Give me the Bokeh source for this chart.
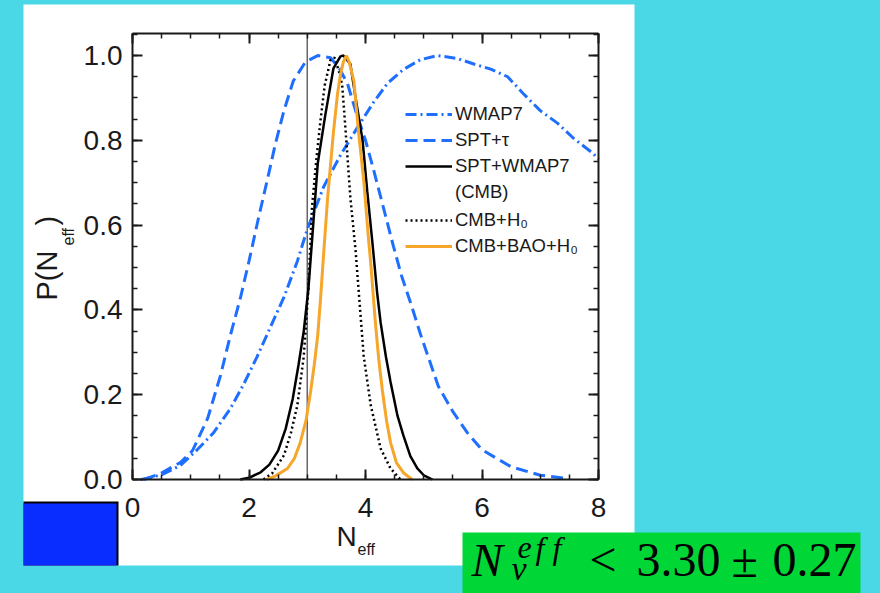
from bokeh.plotting import figure
from bokeh.models import (Label, BoxAnnotation, Legend, LegendItem, LinearAxis,
                          FixedTicker, PrintfTickFormatter, Range1d, CustomJSTickFormatter)
from bokeh.embed import file_html
from bokeh.resources import INLINE

# ---------------- data ----------------
wmap7_n = [0.15, 0.3, 0.53, 0.82, 1.11, 1.39, 1.68, 1.91, 2.14, 2.37, 2.6, 2.83, 3.0, 3.28,
           3.57, 3.86, 4.14, 4.38, 4.65, 4.94, 5.23, 5.58, 5.86, 6.15, 6.44, 6.71, 7.0, 7.3,
           7.57, 7.9, 8.0]
wmap7_p = [0.0, 0.004, 0.013, 0.033, 0.07, 0.11, 0.167, 0.225, 0.29, 0.36, 0.43, 0.515, 0.59,
           0.69, 0.765, 0.83, 0.89, 0.935, 0.967, 0.99, 1.0, 0.993, 0.98, 0.968, 0.95, 0.91,
           0.87, 0.84, 0.805, 0.77, 0.755]

spt_n = [0.2, 0.48, 0.82, 1.03, 1.29, 1.51, 1.68, 1.85, 2.0, 2.16, 2.32, 2.45, 2.6, 2.76, 2.97,
         3.18, 3.4, 3.55, 3.69, 3.83, 4.0, 4.14, 4.31, 4.48, 4.62, 4.79, 4.95, 5.25, 5.5, 5.75,
         6.0, 6.5, 7.0, 7.5]
spt_p = [0.0, 0.014, 0.04, 0.068, 0.144, 0.245, 0.34, 0.427, 0.515, 0.615, 0.71, 0.79, 0.87,
         0.94, 0.985, 1.0, 0.995, 0.97, 0.934, 0.87, 0.8, 0.73, 0.64, 0.55, 0.48, 0.41, 0.34,
         0.22, 0.16, 0.11, 0.07, 0.03, 0.01, 0.002]

cmb_n = [1.85, 2.0, 2.2, 2.35, 2.5, 2.63, 2.75, 2.85, 2.94, 3.02, 3.08, 3.18, 3.31, 3.45, 3.57,
         3.62, 3.74, 3.83, 3.95, 4.03, 4.12, 4.2, 4.26, 4.35, 4.43, 4.55, 4.65, 4.77, 4.89,
         5.0, 5.15]
cmb_p = [0.0, 0.004, 0.017, 0.035, 0.068, 0.12, 0.19, 0.27, 0.35, 0.45, 0.56, 0.745, 0.86,
         0.97, 0.998, 1.0, 0.98, 0.9, 0.8, 0.68, 0.557, 0.44, 0.37, 0.29, 0.23, 0.15, 0.104,
         0.055, 0.026, 0.01, 0.0]

cmbh0_n = [2.25, 2.4, 2.6, 2.72, 2.83, 2.94, 3.02, 3.08, 3.16, 3.23, 3.3, 3.4, 3.47, 3.55,
           3.6, 3.66, 3.74, 3.83, 3.88, 3.97, 4.09, 4.26, 4.43, 4.6]
cmbh0_p = [0.0, 0.015, 0.057, 0.11, 0.175, 0.29, 0.45, 0.64, 0.76, 0.85, 0.93, 0.99, 0.995,
           0.96, 0.93, 0.82, 0.665, 0.54, 0.45, 0.29, 0.175, 0.073, 0.026, 0.0]

bao_n = [2.3, 2.45, 2.66, 2.78, 2.88, 2.98, 3.06, 3.12, 3.18, 3.23, 3.28, 3.35, 3.45, 3.52,
         3.57, 3.62, 3.67, 3.72, 3.8, 3.88, 3.97, 4.05, 4.09, 4.17, 4.23, 4.29, 4.36, 4.43,
         4.53, 4.65, 4.8]
bao_p = [0.0, 0.008, 0.026, 0.05, 0.087, 0.14, 0.21, 0.27, 0.34, 0.43, 0.53, 0.665, 0.82,
         0.91, 0.955, 0.985, 1.0, 0.985, 0.94, 0.82, 0.705, 0.57, 0.51, 0.37, 0.28, 0.21,
         0.14, 0.087, 0.04, 0.016, 0.0]

ref_line = 3.0
x_ticks = [0, 2, 4, 6, 8]
x_minor = [0, 0.5, 1, 1.5, 2, 2.5, 3, 3.5, 4, 4.5, 5, 5.5, 6, 6.5, 7, 7.5, 8]
y_ticks = [0.0, 0.2, 0.4, 0.6, 0.8, 1.0]
y_minor = [0.0, 0.05, 0.1, 0.15, 0.2, 0.25, 0.3, 0.35, 0.4, 0.45, 0.5, 0.55, 0.6, 0.65,
           0.7, 0.75, 0.8, 0.85, 0.9, 0.95, 1.0, 1.05]
X_MIN, X_MAX = 0.0, 8.0
Y_MIN, Y_MAX = 0.0, 1.052

# ---------------- layout / styles ----------------
W, H = 880, 593
BOX_L, BOX_R, BOX_T, BOX_B = 132, 598, 33, 479   # chart box, in page pixels
CYAN = "#4AD8E6"
BLUE_LINE = "#1F6FFF"
ORANGE = "#F6A62A"
INK = "#1a1a1a"
SANS = "Liberation Sans"
SERIF = "Liberation Serif"

# the whole canvas is the plot frame, so texts around the chart are never clipped
xs = (BOX_R - BOX_L) / (X_MAX - X_MIN)
ys = (BOX_B - BOX_T) / (Y_MAX - Y_MIN)
x_range = Range1d(X_MIN - BOX_L / xs, X_MAX + (W - BOX_R) / xs)
y_range = Range1d(Y_MIN - (H - BOX_B) / ys, Y_MAX + BOX_T / ys)

p = figure(width=W, height=H, x_range=x_range, y_range=y_range,
           output_backend="svg", toolbar_location=None, min_border=0)
p.background_fill_color = CYAN
p.border_fill_color = CYAN
p.outline_line_color = None
p.grid.visible = False

def style_axis(ax, ticks, minor, bounds, loc, show_labels):
    ax.ticker = FixedTicker(ticks=ticks, minor_ticks=minor)
    ax.bounds = bounds
    ax.fixed_location = loc
    ax.axis_line_color = INK
    ax.axis_line_width = 2
    ax.major_tick_line_color = INK
    ax.major_tick_line_width = 2
    ax.minor_tick_line_color = INK
    ax.minor_tick_line_width = 1.5
    ax.major_tick_in = 10
    ax.major_tick_out = 0
    ax.minor_tick_in = 5
    ax.minor_tick_out = 0
    ax.major_label_text_font = SANS
    ax.major_label_text_color = INK
    if show_labels:
        ax.major_label_text_font_size = "28px"
    else:
        ax.formatter = CustomJSTickFormatter(code="return ''")
        ax.major_label_text_font_size = "8px"
        ax.major_label_standoff = 0

style_axis(p.xaxis[0], x_ticks, x_minor, (X_MIN, X_MAX), Y_MIN, True)
style_axis(p.yaxis[0], y_ticks, y_minor, (Y_MIN, Y_MAX), X_MIN, True)
p.yaxis[0].formatter = PrintfTickFormatter(format="%.1f")
p.xaxis[0].major_label_standoff = 18
p.yaxis[0].major_label_standoff = 10

top_ax = LinearAxis()
right_ax = LinearAxis()
style_axis(top_ax, x_ticks, x_minor, (X_MIN, X_MAX), Y_MAX, False)
style_axis(right_ax, y_ticks, y_minor, (Y_MIN, Y_MAX), X_MAX, False)
p.add_layout(top_ax, "above")
p.add_layout(right_ax, "right")

def box(l, r, t, b, color, level="annotation"):
    p.add_layout(BoxAnnotation(left=l, right=r, top=t, bottom=b, left_units="canvas",
                               right_units="canvas", top_units="canvas", bottom_units="canvas",
                               fill_color=color, fill_alpha=1, line_color=None, level=level))

# white page panel behind the chart
box(23, 634, 4, 565, "white", level="underlay")

p.segment(x0=[ref_line], y0=[Y_MIN], x1=[ref_line], y1=[Y_MAX], line_color="#666666",
          line_width=1.5)

r_wmap = p.line(wmap7_n, wmap7_p, line_color=BLUE_LINE, line_width=3, line_dash="11 4 2 4")
r_spt = p.line(spt_n, spt_p, line_color=BLUE_LINE, line_width=3, line_dash="12 6")
r_cmb = p.line(cmb_n, cmb_p, line_color="black", line_width=2.5)
r_h0 = p.line(cmbh0_n, cmbh0_p, line_color="black", line_width=2.5, line_dash="2 3")
r_bao = p.line(bao_n, bao_p, line_color=ORANGE, line_width=3)
r_blank = p.line([], [], line_alpha=0)

def make_legend(items, loc):
    lg = Legend(items=items, location=loc, padding=0, margin=0, spacing=4,
                glyph_width=47, glyph_height=20, label_height=20, label_standoff=3,
                label_text_font=SANS, label_text_font_size="18.5px", label_text_color=INK,
                border_line_color=None, background_fill_alpha=0)
    p.add_layout(lg)

make_legend([LegendItem(label="WMAP7", renderers=[r_wmap]),
             LegendItem(label="SPT+\u03c4", renderers=[r_spt]),
             LegendItem(label="SPT+WMAP7", renderers=[r_cmb]),
             LegendItem(label="(CMB)", renderers=[r_blank])], (405, H - 203))
make_legend([LegendItem(label="CMB+H\u2080", renderers=[r_h0]),
             LegendItem(label="CMB+BAO+H\u2080", renderers=[r_bao])], (405, H - 257))

def lab(x, y, text, size, font=SANS, style="normal", angle=0, color=INK):
    # (x, y) is the wanted baseline start in page pixels; the label anchor sits
    # about 0.4 em below the drawn baseline, so shift it back.
    if angle == 0:
        y = y - 0.4 * size
    else:
        x = x - 0.4 * size
    p.add_layout(Label(x=x, y=y, x_units="canvas", y_units="canvas", text=text,
                       text_font_size=f"{size}px", text_font=font, text_font_style=style,
                       angle=angle, angle_units="deg", text_align="left",
                       text_baseline="alphabetic", text_color=color))

# axis titles
lab(336, 547, "N", 28)
lab(357, 555, "eff", 16)
lab(58, 300, "P(N", 29, angle=90)
lab(74, 245, "eff", 16, angle=90)
lab(58, 225, ")", 29, angle=90)

# blue box (with black edge on top/right) and green box with the formula
box(23, 118, 501, 565, "black")
box(23, 116, 503, 565, "#0A2DFF")
box(462, 860, 532, 593, "#00D636")
lab(471, 578, "N", 47, font=SERIF, style="italic", color="black")
lab(517, 560, "e", 32, font=SERIF, style="italic", color="black")
lab(535, 560, "f", 32, font=SERIF, style="italic", color="black")
lab(552, 560, "f", 32, font=SERIF, style="italic", color="black")
lab(511, 582, "\u03bd", 34, font=SERIF, style="italic", color="black")
lab(589, 578, "<", 48, font=SERIF, color="black")
lab(636, 579, "3.30", 48, font=SERIF, color="black")
lab(731, 579, "\u00b1", 48, font=SERIF, color="black")
lab(772, 579, "0.27", 48, font=SERIF, color="black")

html = file_html(p, INLINE)
html = html.replace("</head>", "<style>html, body { background: %s; }</style></head>" % CYAN, 1)
open("out.html", "w").write(html)
